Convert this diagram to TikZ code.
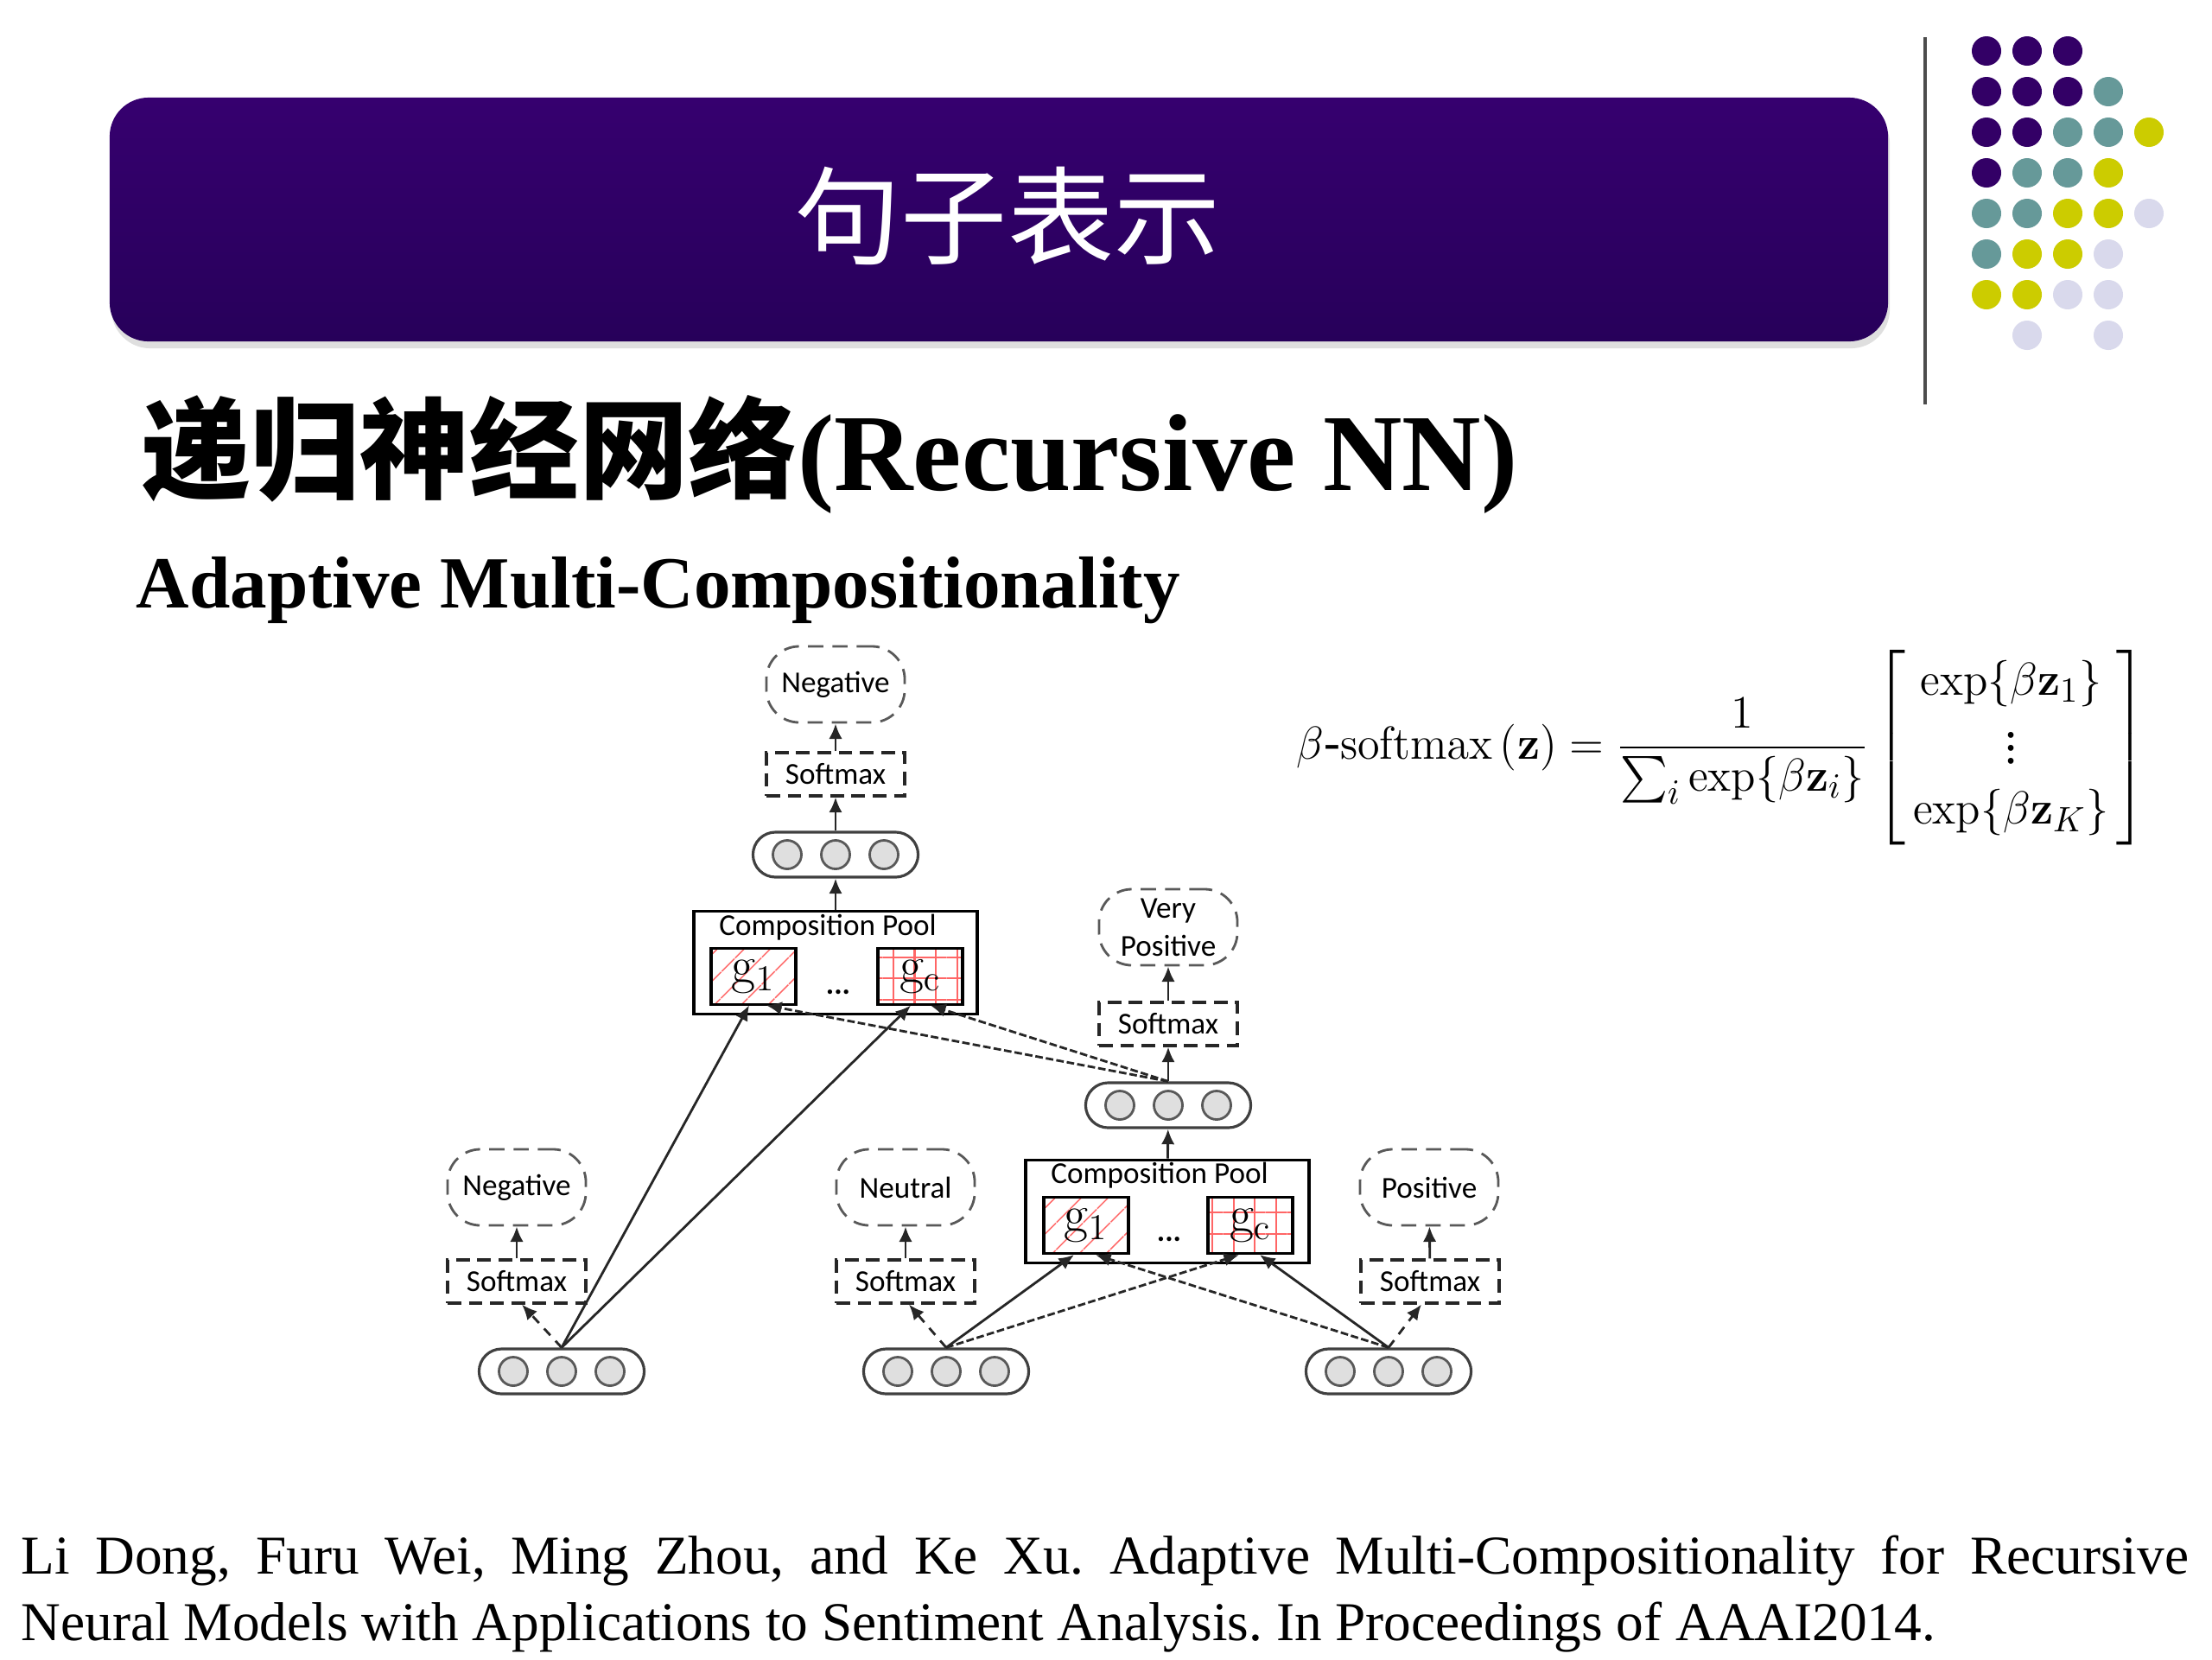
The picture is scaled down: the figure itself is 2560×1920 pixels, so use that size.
\documentclass[tikz,border=0pt]{standalone}
\usepackage[no-math]{fontspec}
\setmainfont{Liberation Serif}
\newfontfamily\cjk{Noto Sans CJK SC}
\newfontfamily\calib{Carlito}
\usepackage{amsmath}
\usetikzlibrary{arrows.meta,patterns.meta,shadows}

\definecolor{bannertop}{HTML}{36006F}
\definecolor{bannerbot}{HTML}{27005A}
\definecolor{dotP}{HTML}{330066}
\definecolor{dotT}{HTML}{669999}
\definecolor{dotY}{HTML}{CCCC00}
\definecolor{dotL}{HTML}{D9D9EC}

\tikzset
  {sentiment/.style={draw=black!65, dash pattern=on 5pt off 3pt, line width=0.8pt,
                     rounded corners=0.38cm, minimum width=1.6cm, minimum height=0.88cm,
                     align=center, font=\calib\fontsize{10}{12.5}\selectfont},
   softbox/.style={draw=black!85, dash pattern=on 4.5pt off 2.5pt, line width=0.9pt,
                   minimum width=1.6cm, minimum height=0.5cm,
                   font=\calib\fontsize{10}{12}\selectfont},
   vecbox/.style={draw=black!75, line width=0.9pt, rounded corners=0.26cm,
                  minimum width=1.91cm, minimum height=0.52cm},
   unit/.style={circle, draw=black!65, fill=gray!25, line width=0.8pt,
                minimum size=0.33cm},
   pool/.style={draw=black, line width=1pt, minimum width=3.28cm, minimum height=1.19cm},
   poollab/.style={font=\calib\fontsize{10}{12}\selectfont},
   gbox/.style={draw=black, line width=0.9pt, minimum width=0.98cm, minimum height=0.65cm,
                pattern color=red!60, font=\fontsize{18}{18}\selectfont},
   hatchbox/.style={gbox, pattern={Lines[angle=45,distance=6.5pt,line width=0.5pt]}},
   gridbox/.style={gbox, pattern={Hatch[angle=0,distance=7pt,line width=0.6pt]}},
   link/.style={-{Latex[length=5pt,width=4.4pt]}, line width=0.8pt, draw=black!85},
   rlink/.style={link, dash pattern=on 2.5pt off 1pt},
   slink/.style={link, dash pattern=on 3pt off 2.5pt}}

\newcommand{\hidvec}[3]{
  \draw (#2,#3) node[vecbox] (#1) {};
  \draw (#2-56,#3) node[unit] (#1a) {};
  \draw (#2,#3) node[unit] (#1b) {};
  \draw (#2+56,#3) node[unit] (#1c) {};
}
\newcommand{\glab}[1]{$\mathrm{g}_{\mathrm{#1}}$}

\begin{document}
\begin{tikzpicture}[x=0.01cm,y=-0.01cm,every node/.style={inner sep=0pt}]
\useasboundingbox (0,0) rectangle (2560,1920);

\draw (1156,254) node[rounded corners=0.45cm, minimum width=20.57cm, minimum height=2.82cm,
                      top color=bannertop, bottom color=bannerbot,
                      drop shadow={shadow xshift=0.02cm, shadow yshift=-0.08cm, opacity=0.25}] (banner) {};
\draw (1166,250) node[text=white, font=\cjk\fontsize{35}{38}\selectfont] (title) {句子表示};

\draw[line width=0.9pt, black!70] (2228,43) -- (2228,468);
\foreach \c/\r/\col in {0/0/dotP,1/0/dotP,2/0/dotP,
                        0/1/dotP,1/1/dotP,2/1/dotP,3/1/dotT,
                        0/2/dotP,1/2/dotP,2/2/dotT,3/2/dotT,4/2/dotY,
                        0/3/dotP,1/3/dotT,2/3/dotT,3/3/dotY,
                        0/4/dotT,1/4/dotT,2/4/dotY,3/4/dotY,4/4/dotL,
                        0/5/dotT,1/5/dotY,2/5/dotY,3/5/dotL,
                        0/6/dotY,1/6/dotY,2/6/dotL,3/6/dotL,
                        1/7/dotL,3/7/dotL}
  \fill[\col] (2299+47*\c,59+47*\r) circle (0.17cm);

\draw (163,567) node[anchor=base west, font=\fontsize{36}{40}\selectfont] (head)
      {{\cjk\bfseries 递归神经网络}\textbf{(Recursive NN)}};
\draw (157,703) node[anchor=base west, font=\fontsize{24.2}{28}\selectfont] (sub)
      {\textbf{Adaptive Multi-Compositionality}};

\draw (1500,865) node[anchor=west, xscale=1.03, yscale=1.06, font=\fontsize{15.6}{18.7}\selectfont] (formula)
      {$\beta$\mbox{-}$\mathrm{softmax}\left(\mathbf{z}\right) =
       \dfrac{1}{\sum_i \exp\{\beta\mathbf{z}_i\}}
       \begin{bmatrix} \,\exp\{\beta\mathbf{z}_1\}\, \\ \vdots \\ \,\exp\{\beta\mathbf{z}_K\}\, \end{bmatrix}$};

\draw (967,792)  node[sentiment] (sentT) {Negative};
\draw (967,896)  node[softbox] (softT) {Softmax};
\hidvec{vecT}{967}{989}
\draw (967,1114) node[pool] (poolT) {};
\draw (958,1073) node[poollab] (labT) {Composition Pool};
\draw (872,1130) node[hatchbox] (gT1) {\glab{1}};
\draw (1065,1130) node[gridbox] (gTc) {\glab{c}};
\draw (970,1148) node[poollab] (dotsT) {\textbf{...}};

\draw (1352,1073) node[sentiment] (sentR) {Very\\Positive};
\draw (1352,1185) node[softbox] (softR) {Softmax};
\hidvec{vecR}{1352}{1279}
\draw (1351,1402) node[pool] (poolR) {};
\draw (1342,1360) node[poollab] (labR) {Composition Pool};
\draw (1257,1418) node[hatchbox] (gR1) {\glab{1}};
\draw (1447,1418) node[gridbox] (gRc) {\glab{c}};
\draw (1353,1434) node[poollab] (dotsR) {\textbf{...}};

\draw (598,1374)  node[sentiment] (sentA) {Negative};
\draw (598,1483)  node[softbox] (softA) {Softmax};
\hidvec{vecA}{650}{1587}
\draw (1048,1374) node[sentiment] (sentB) {Neutral};
\draw (1048,1483) node[softbox] (softB) {Softmax};
\hidvec{vecB}{1095}{1587}
\draw (1654,1374) node[sentiment] (sentC) {Positive};
\draw (1655,1483) node[softbox] (softC) {Softmax};
\hidvec{vecC}{1607}{1587}

\draw[link] (softT) -- (sentT);
\draw[link] (vecT) -- (softT);
\draw[link] (poolT) -- (vecT);
\draw[link] (softR) -- (sentR);
\draw[link] (vecR) -- (softR);
\draw[link] (poolR) -- (vecR);
\draw[link] (softA) -- (sentA);
\draw[link] (softB) -- (sentB);
\draw[link] (softC) -- (sentC);

\draw[slink] (vecA.north) -- ([xshift=0.06cm]softA.south);
\draw[slink] (vecB.north) -- ([xshift=0.04cm]softB.south);
\draw[slink] (vecC.north) -- ([xshift=-0.1cm]softC.south);

\draw[link]  (vecA.north) -- ([xshift=-0.05cm]gT1.south);
\draw[link]  (vecA.north) -- ([xshift=-0.11cm]gTc.south);
\draw[rlink] (vecR.north) -- ([xshift=0.15cm]gT1.south);
\draw[rlink] (vecR.north) -- ([xshift=0.12cm]gTc.south);

\draw[link]  (vecB.north) -- ([xshift=-0.14cm]gR1.south);
\draw[rlink] (vecB.north) -- ([xshift=-0.13cm]gRc.south);
\draw[rlink] (vecC.north) -- ([xshift=0.11cm]gR1.south);
\draw[link]  (vecC.north) -- ([xshift=0.11cm]gRc.south);

\draw (24,1776) node[anchor=north west, text width=25.07cm, align=justify,
                     font=\frenchspacing\fontsize{18}{21.9}\selectfont] (cite)
      {Li Dong, Furu Wei, Ming Zhou, and Ke Xu. Adaptive Multi-Compositionality for Recursive\linebreak
       Neural Models with Applications to Sentiment Analysis. In Proceedings of AAAI2014.};
\end{tikzpicture}
\end{document}
